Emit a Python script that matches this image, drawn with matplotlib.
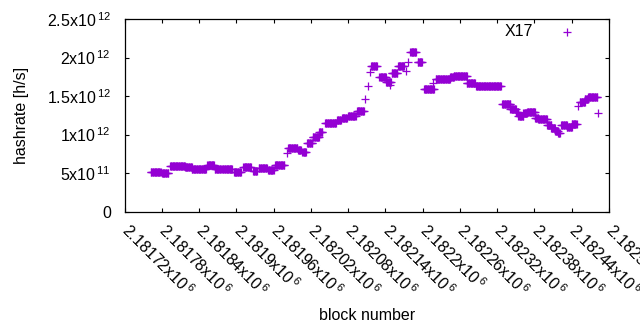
import matplotlib
matplotlib.use('Agg')
import matplotlib.pyplot as plt
import matplotlib.transforms as mtransforms
import numpy as np

plt.rcParams['font.family'] = ['Liberation Sans', 'DejaVu Sans']
plt.rcParams['mathtext.default'] = 'regular'

# runs of blocks with (roughly) constant estimated hashrate, in 1e12 h/s
run_start = [2181762, 2181780, 2181793, 2181817, 2181828, 2181853, 2181865, 2181877,
             2181896, 2181911, 2181927, 2181936, 2181951, 2181962, 2181981, 2181983,
             2181999, 2182006, 2182014, 2182023, 2182033, 2182043, 2182062, 2182070,
             2182080, 2182094, 2182107, 2182112, 2182115, 2182117, 2182130, 2182141,
             2182147, 2182150, 2182160, 2182173, 2182176, 2182180, 2182192, 2182202,
             2182217, 2182221, 2182244, 2182250, 2182271, 2182286, 2182328, 2182341,
             2182350, 2182354, 2182362, 2182368, 2182381, 2182386, 2182400, 2182407,
             2182413, 2182418, 2182423, 2182432, 2182440, 2182450, 2182453, 2182461,
             2182466, 2182482]
run_end = [2181778, 2181790, 2181817, 2181828, 2181851, 2181864, 2181875, 2181893,
           2181907, 2181923, 2181933, 2181949, 2181960, 2181977, 2181981, 2181998,
           2182004, 2182012, 2182022, 2182033, 2182038, 2182060, 2182068, 2182078,
           2182092, 2182105, 2182107, 2182112, 2182115, 2182126, 2182141, 2182149,
           2182147, 2182159, 2182170, 2182173, 2182176, 2182189, 2182199, 2182218,
           2182217, 2182244, 2182250, 2182271, 2182284, 2182326, 2182341, 2182350,
           2182354, 2182362, 2182368, 2182381, 2182386, 2182400, 2182407, 2182413,
           2182418, 2182421, 2182432, 2182440, 2182448, 2182450, 2182461, 2182466,
           2182481, 2182482]
run_hashrate = [0.517, 0.496, 0.591, 0.574, 0.548, 0.604, 0.548, 0.552,
                0.519, 0.582, 0.530, 0.569, 0.539, 0.604, 0.756, 0.821,
                0.799, 0.769, 0.890, 0.971, 1.032, 1.145, 1.188, 1.210,
                1.240, 1.305, 1.457, 1.630, 1.808, 1.890, 1.751, 1.686,
                1.643, 1.795, 1.890, 1.825, 1.945, 2.068, 1.938, 1.587,
                1.669, 1.721, 1.743, 1.764, 1.673, 1.630, 1.392, 1.327,
                1.296, 1.240, 1.275, 1.288, 1.218, 1.197, 1.123, 1.081,
                1.049, 1.019, 1.119, 1.101, 1.132, 1.370, 1.418, 1.457,
                1.491, 1.275]

x_ticks = np.arange(2181720, 2182501, 60)
x_ticklabels = ['2.18172', '2.18178', '2.18184', '2.1819', '2.18196', '2.18202',
                '2.18208', '2.18214', '2.1822', '2.18226', '2.18232', '2.18238',
                '2.18244', '2.1825']
y_ticks = [0, 0.5e12, 1e12, 1.5e12, 2e12, 2.5e12]
y_ticklabels = ['0', '5x10$^{\\,11}$', '1x10$^{\\,12}$', '1.5x10$^{\\,12}$',
                '2x10$^{\\,12}$', '2.5x10$^{\\,12}$']

color = '#9400d3'
fs = 11.5

fig = plt.figure(figsize=(6.4, 3.3), dpi=100)
ax = fig.add_axes([124.7 / 640, 1 - 211.5 / 330, (609 - 124.7) / 640, 192.5 / 330])

# one point per block inside each run
blocks = []
rates = []
for s, e, v in zip(run_start, run_end, run_hashrate):
    b = np.arange(s, e + 1)
    blocks.append(b)
    rates.append(np.full(len(b), v * 1e12))
blocks = np.concatenate(blocks)
rates = np.concatenate(rates)

ax.plot(blocks, rates, linestyle='none', marker='+', markersize=5.6,
        markeredgewidth=0.9, color=color)

ax.set_xlim(2181720, 2182500)
ax.set_ylim(0, 2.5e12)
ax.set_xticks(x_ticks)
ax.set_xticklabels([t + 'x10$^{\\,6}$' for t in x_ticklabels], rotation=-45,
                   ha='left', va='center', rotation_mode='anchor', fontsize=fs)
shift = mtransforms.ScaledTranslation(-3 / 100, 0, fig.dpi_scale_trans)
for lbl in ax.get_xticklabels():
    lbl.set_transform(lbl.get_transform() + shift)
ax.set_yticks(y_ticks)
ax.set_yticklabels(y_ticklabels, fontsize=fs)
ax.tick_params(direction='in', length=3, width=0.8, top=True, right=True)
ax.tick_params(axis='y', pad=10)
ax.tick_params(axis='x', pad=11)
for sp in ax.spines.values():
    sp.set_linewidth(0.9)

ax.set_xlabel('block number', fontsize=fs, labelpad=6)
ax.set_ylabel('hashrate [h/s]', fontsize=fs, labelpad=13)

# key
ax.text(0.843, 0.937, 'X17', transform=ax.transAxes, ha='right', va='center',
        fontsize=fs)
ax.plot([0.913], [0.93], transform=ax.transAxes, linestyle='none', marker='+',
        markersize=5.6, markeredgewidth=0.9, color=color)

fig.savefig('out.png', dpi=100)
